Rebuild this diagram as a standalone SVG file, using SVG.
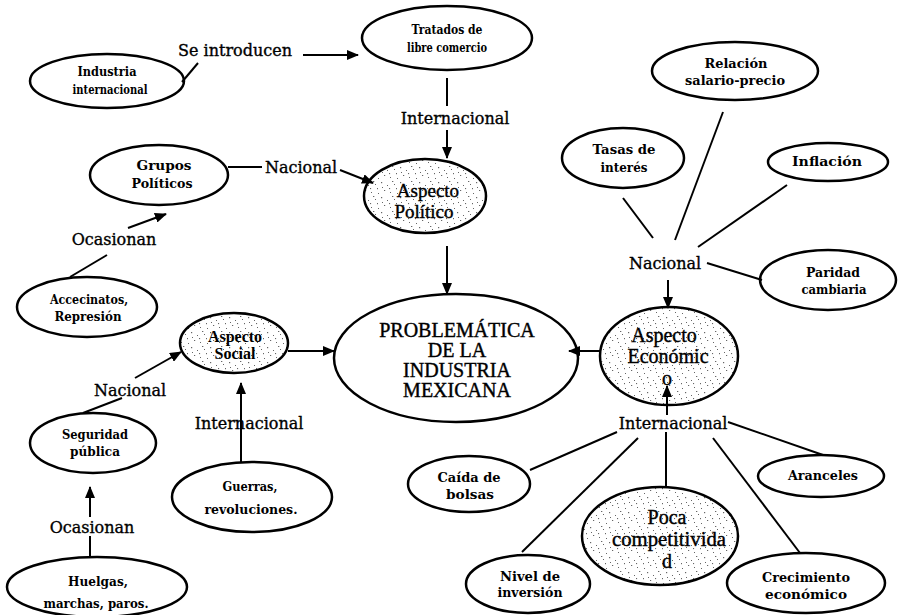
<svg xmlns="http://www.w3.org/2000/svg" width="899" height="615" viewBox="0 0 899 615">
<style>
.node ellipse{fill:#fff;stroke:#000;stroke-width:2.5}
.node ellipse.st{fill:url(#stip)}
.t{font-family:"DejaVu Serif",serif;font-weight:bold;font-size:13px;text-anchor:middle;fill:#000}
.lbl{font-family:"DejaVu Serif",serif;font-size:16px;text-anchor:middle;fill:#000;stroke:#000;stroke-width:0.35}
.big{font-family:"Liberation Serif",serif;font-size:20px;text-anchor:middle;fill:#000;stroke:#000;stroke-width:0.4}
.edges line{stroke:#000;stroke-width:2;fill:none}
.edges line.a{marker-end:url(#ah)}
</style>
<defs>
<marker id="ah" markerUnits="userSpaceOnUse" markerWidth="12" markerHeight="10" refX="11" refY="5" orient="auto">
<path d="M0,0 L12,5 L0,10 z" fill="#000"/>
</marker>
<pattern id="stip" width="19" height="15" patternUnits="userSpaceOnUse">
<rect width="19" height="15" fill="#fff"/>
<g fill="#666">
<rect x="1" y="2" width="1.2" height="1.2"/>
<rect x="7" y="5" width="1" height="1"/>
<rect x="12" y="1" width="1.3" height="1"/>
<rect x="16" y="8" width="1" height="1.2"/>
<rect x="4" y="10" width="1.2" height="1"/>
<rect x="10" y="12" width="1" height="1"/>
<rect x="14" y="4" width="1" height="1"/>
<rect x="2" y="7" width="1" height="1"/>
<rect x="9" y="8" width="1.1" height="1.1"/>
<rect x="17" y="13" width="1" height="1"/>
</g>
</pattern>
</defs>

<g id="labels">
<text class="lbl" x="235" y="56">Se introducen</text>
<text class="lbl" x="455" y="124">Internacional</text>
<text class="lbl" x="301" y="173">Nacional</text>
<text class="lbl" x="114" y="245">Ocasionan</text>
<text class="lbl" x="130" y="396">Nacional</text>
<text class="lbl" x="249" y="429">Internacional</text>
<text class="lbl" x="92" y="533">Ocasionan</text>
<text class="lbl" x="665" y="269">Nacional</text>
<text class="lbl" x="673" y="429">Internacional</text>
</g>

<g id="industria" class="node"><ellipse cx="107" cy="81" rx="77" ry="27"/>
<text class="t" x="107" y="76" textLength="59" lengthAdjust="spacingAndGlyphs">Industria</text><text class="t" x="110" y="94" textLength="75" lengthAdjust="spacingAndGlyphs">internacional</text></g>

<g id="tratados" class="node"><ellipse cx="447" cy="38" rx="85" ry="32"/>
<text class="t" x="447" y="34" textLength="71" lengthAdjust="spacingAndGlyphs">Tratados de</text><text class="t" x="447" y="52" textLength="80" lengthAdjust="spacingAndGlyphs">libre comercio</text></g>

<g id="relacion" class="node"><ellipse cx="735" cy="71" rx="83" ry="29"/>
<text class="t" x="736" y="68" textLength="63" lengthAdjust="spacingAndGlyphs">Relación</text><text class="t" x="735" y="85" textLength="100" lengthAdjust="spacingAndGlyphs">salario-precio</text></g>

<g id="tasas" class="node"><ellipse cx="623" cy="158" rx="61" ry="30"/>
<text class="t" x="624" y="154" textLength="63" lengthAdjust="spacingAndGlyphs">Tasas de</text><text class="t" x="624" y="172" textLength="47" lengthAdjust="spacingAndGlyphs">interés</text></g>

<g id="inflacion" class="node"><ellipse cx="828" cy="162" rx="60" ry="19"/>
<text class="t" x="827" y="166" textLength="70" lengthAdjust="spacingAndGlyphs">Inflación</text></g>

<g id="paridad" class="node"><ellipse cx="828" cy="280" rx="68" ry="30"/>
<text class="t" x="833" y="277" textLength="54" lengthAdjust="spacingAndGlyphs">Paridad</text><text class="t" x="834" y="294" textLength="65" lengthAdjust="spacingAndGlyphs">cambiaria</text></g>

<g id="grupos" class="node"><ellipse cx="159" cy="175" rx="69" ry="30"/>
<text class="t" x="164" y="170" textLength="55" lengthAdjust="spacingAndGlyphs">Grupos</text><text class="t" x="162" y="188" textLength="61" lengthAdjust="spacingAndGlyphs">Políticos</text></g>

<g id="aspecto-politico" class="node"><ellipse class="st" cx="425" cy="196" rx="61" ry="37"/>
<text class="big" style="font-size:19px" x="428" y="197">Aspecto</text><text class="big" style="font-size:19px" x="424" y="218">Político</text></g>

<g id="accecinatos" class="node"><ellipse cx="87" cy="307" rx="70" ry="30"/>
<text class="t" x="89" y="304" textLength="78" lengthAdjust="spacingAndGlyphs">Accecinatos,</text><text class="t" x="88" y="321" textLength="67" lengthAdjust="spacingAndGlyphs">Represión</text></g>

<g id="aspecto-social" class="node"><ellipse class="st" cx="234" cy="343" rx="54" ry="30"/>
<text class="big" style="font-size:16px;font-weight:bold;stroke-width:0" x="235" y="342">Aspecto</text><text class="big" style="font-size:16px;font-weight:bold;stroke-width:0" x="235" y="359">Social</text></g>

<g id="problematica" class="node"><ellipse cx="456" cy="358" rx="122" ry="64"/>
<text class="big" x="457" y="337">PROBLEMÁTICA</text><text class="big" x="457" y="357">DE LA</text>
<text class="big" x="457" y="377">INDUSTRIA</text><text class="big" x="457" y="397">MEXICANA</text></g>

<g id="aspecto-economico" class="node"><ellipse class="st" cx="669" cy="356" rx="69" ry="49"/>
<text class="big" x="664" y="342">Aspecto</text><text class="big" x="668" y="363">Económic</text><text class="big" x="667" y="385">o</text></g>

<g id="seguridad" class="node"><ellipse cx="93" cy="443" rx="63" ry="30"/>
<text class="t" x="95" y="439" textLength="66" lengthAdjust="spacingAndGlyphs">Seguridad</text><text class="t" x="95" y="456" textLength="50" lengthAdjust="spacingAndGlyphs">pública</text></g>

<g id="guerras" class="node"><ellipse cx="252" cy="497" rx="80" ry="35"/>
<text class="t" x="250" y="491" textLength="55" lengthAdjust="spacingAndGlyphs">Guerras,</text><text class="t" x="251" y="514" textLength="93" lengthAdjust="spacingAndGlyphs">revoluciones.</text></g>

<g id="huelgas" class="node"><ellipse cx="97" cy="587" rx="90" ry="30"/>
<text class="t" x="98" y="586" textLength="60" lengthAdjust="spacingAndGlyphs">Huelgas,</text><text class="t" x="96" y="608" textLength="105" lengthAdjust="spacingAndGlyphs">marchas, paros.</text></g>

<g id="caida" class="node"><ellipse cx="469" cy="484" rx="61" ry="28"/>
<text class="t" x="469" y="482" textLength="63" lengthAdjust="spacingAndGlyphs">Caída de</text><text class="t" x="470" y="499" textLength="48" lengthAdjust="spacingAndGlyphs">bolsas</text></g>

<g id="poca" class="node"><ellipse class="st" cx="660" cy="536" rx="78" ry="49"/>
<text class="big" x="667" y="524">Poca</text><text class="big" x="669" y="546" textLength="114" lengthAdjust="spacingAndGlyphs">competitivida</text><text class="big" x="667" y="568">d</text></g>

<g id="nivel" class="node"><ellipse cx="528" cy="584" rx="62" ry="29"/>
<text class="t" x="530" y="581" textLength="60" lengthAdjust="spacingAndGlyphs">Nivel de</text><text class="t" x="530" y="597" textLength="65" lengthAdjust="spacingAndGlyphs">inversión</text></g>

<g id="crecimiento" class="node"><ellipse cx="806" cy="583" rx="79" ry="30"/>
<text class="t" x="806" y="582" textLength="88" lengthAdjust="spacingAndGlyphs">Crecimiento</text><text class="t" x="806" y="599" textLength="82" lengthAdjust="spacingAndGlyphs">económico</text></g>

<g id="aranceles" class="node"><ellipse cx="821" cy="476" rx="63" ry="21"/>
<text class="t" x="823" y="480" textLength="70" lengthAdjust="spacingAndGlyphs">Aranceles</text></g>

<g class="edges">
<line x1="182" y1="82" x2="198" y2="63"/>
<line class="a" x1="303" y1="55" x2="358" y2="55"/>
<line x1="447" y1="78" x2="447" y2="106"/>
<line class="a" x1="447" y1="130" x2="447" y2="158"/>
<line x1="228" y1="167" x2="262" y2="167"/>
<line class="a" x1="340" y1="170" x2="373" y2="183"/>
<line x1="70" y1="277" x2="107" y2="255"/>
<line class="a" x1="128" y1="228" x2="166" y2="214"/>
<line class="a" x1="447" y1="246" x2="447" y2="294"/>
<line class="a" x1="288" y1="351" x2="334" y2="351"/>
<line class="a" x1="135" y1="378" x2="181" y2="352"/>
<line x1="83" y1="413" x2="122" y2="398"/>
<line x1="90" y1="558" x2="90" y2="536"/>
<line class="a" x1="90" y1="517" x2="90" y2="487"/>
<line class="a" x1="241" y1="462" x2="241" y2="383"/>
<line x1="623" y1="198" x2="653" y2="238"/>
<line x1="723" y1="112" x2="675" y2="240"/>
<line x1="787" y1="185" x2="698" y2="247"/>
<line x1="707" y1="263" x2="762" y2="280"/>
<line class="a" x1="668" y1="280" x2="668" y2="308"/>
<line class="a" x1="600" y1="351" x2="569" y2="351"/>
<line class="a" x1="667" y1="415" x2="667" y2="386"/>
<line x1="617" y1="432" x2="530" y2="470"/>
<line x1="638" y1="438" x2="522" y2="552"/>
<line x1="666" y1="432" x2="666" y2="488"/>
<line x1="713" y1="438" x2="800" y2="553"/>
<line x1="728" y1="422" x2="823" y2="455"/>
</g>
</svg>
